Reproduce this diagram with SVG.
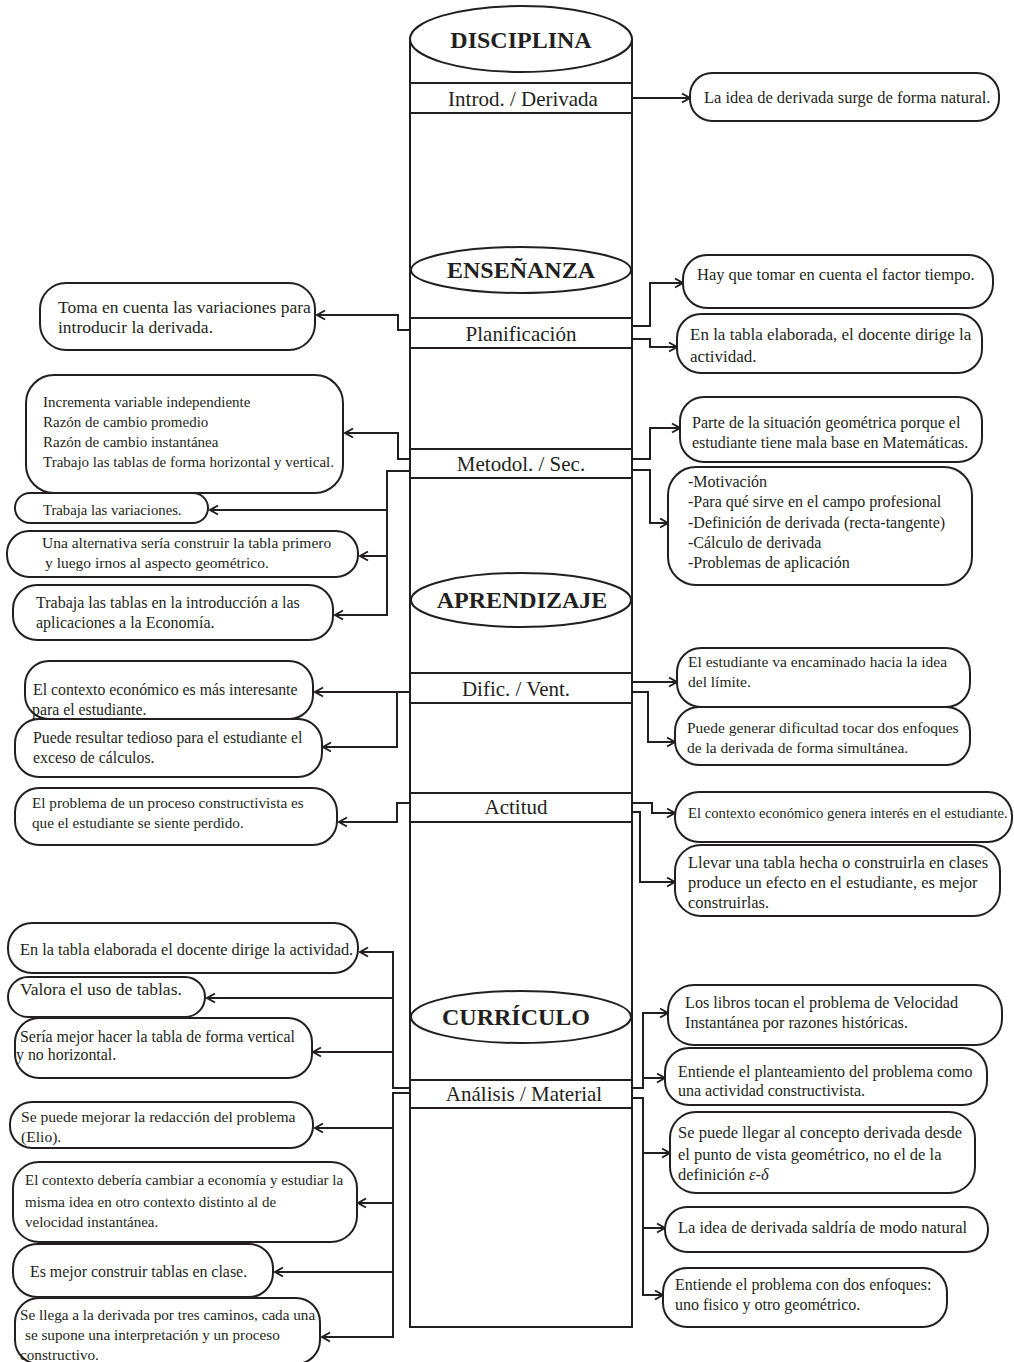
<svg xmlns="http://www.w3.org/2000/svg" width="1014" height="1362" viewBox="0 0 1014 1362">
  <style>
    .line { fill: none; stroke: #231f20; stroke-width: 2; }
    .box { fill: #ffffff; stroke: #231f20; stroke-width: 2; }
    .band { fill: #ffffff; stroke: #231f20; stroke-width: 2; }
    .head { fill: #ffffff; stroke: #231f20; stroke-width: 2; }
    text { font-family: "Liberation Serif", "Times New Roman", serif; fill: #231f20; }
    .h { font-size: 24px; font-weight: bold; text-anchor: middle; }
    .b { font-size: 21px; text-anchor: middle; }
    .conn path { fill: none; stroke: #231f20; stroke-width: 2; }
  </style>
  <defs>
    <marker id="arrow" viewBox="-10 -6 12 12" refX="0" refY="0" markerWidth="12" markerHeight="12" markerUnits="userSpaceOnUse" orient="auto">
      <path d="M-8,-4.5 L0,0 L-8,4.5" fill="none" stroke="#231f20" stroke-width="2"/>
    </marker>
  </defs>

  <!-- central column -->
  <g id="column">
    <path class="line" d="M410,39 V1327 H632 V39"/>
  </g>

  <!-- section headings -->
  <g id="disciplina">
    <ellipse class="head" cx="521" cy="39" rx="111" ry="33"/>
    <text class="h" x="521" y="48">DISCIPLINA</text>
  </g>
  <g id="ensenanza">
    <ellipse class="head" cx="521" cy="270" rx="110" ry="23"/>
    <text class="h" x="521" y="278">ENSEÑANZA</text>
  </g>
  <g id="aprendizaje">
    <ellipse class="head" cx="521" cy="600" rx="110" ry="27"/>
    <text class="h" x="522" y="608">APRENDIZAJE</text>
  </g>
  <g id="curriculo">
    <ellipse class="head" cx="521" cy="1017" rx="110" ry="26"/>
    <text class="h" x="516" y="1025">CURRÍCULO</text>
  </g>

  <!-- category bands -->
  <g id="band-introd">
    <rect class="band" x="410" y="83" width="222" height="30"/>
    <text class="b" x="523" y="106">Introd. / Derivada</text>
  </g>
  <g id="band-planificacion">
    <rect class="band" x="410" y="318" width="222" height="30"/>
    <text class="b" x="521" y="341">Planificación</text>
  </g>
  <g id="band-metodol">
    <rect class="band" x="410" y="449" width="222" height="29"/>
    <text class="b" x="521" y="471">Metodol. / Sec.</text>
  </g>
  <g id="band-dific">
    <rect class="band" x="410" y="673" width="222" height="30"/>
    <text class="b" x="516" y="696">Dific. / Vent.</text>
  </g>
  <g id="band-actitud">
    <rect class="band" x="410" y="793" width="222" height="29"/>
    <text class="b" x="516" y="814">Actitud</text>
  </g>
  <g id="band-analisis">
    <rect class="band" x="410" y="1080" width="222" height="28"/>
    <text class="b" x="524" y="1101">Análisis / Material</text>
  </g>

  <!-- connectors -->
  <g id="connectors" class="conn">
    <path d="M632,98 H690" marker-end="url(#arrow)"/>
    <path d="M632,326 H650 V283 H683" marker-end="url(#arrow)"/>
    <path d="M632,339 H650 V347 H677" marker-end="url(#arrow)"/>
    <path d="M632,459 H650 V428 H680" marker-end="url(#arrow)"/>
    <path d="M632,470 H650 V523 H668" marker-end="url(#arrow)"/>
    <path d="M632,682 H677" marker-end="url(#arrow)"/>
    <path d="M632,692 H648 V742 H675" marker-end="url(#arrow)"/>
    <path d="M632,803 H652 V813 H675" marker-end="url(#arrow)"/>
    <path d="M632,812 H640 V882 H675" marker-end="url(#arrow)"/>
    <path d="M632,1088 H643 V1013 H668" marker-end="url(#arrow)"/>
    <path d="M643,1078 H665" marker-end="url(#arrow)"/>
    <path d="M632,1098 H643 V1295 H663" marker-end="url(#arrow)"/>
    <path d="M643,1153 H670" marker-end="url(#arrow)"/>
    <path d="M643,1228 H665" marker-end="url(#arrow)"/>

    <path d="M410,330 H398 V315 H317" marker-end="url(#arrow)"/>
    <path d="M410,459 H398 V433 H345" marker-end="url(#arrow)"/>
    <path d="M410,471 H387 V615 H335" marker-end="url(#arrow)"/>
    <path d="M387,510 H210" marker-end="url(#arrow)"/>
    <path d="M387,556 H360" marker-end="url(#arrow)"/>
    <path d="M410,692 H315" marker-end="url(#arrow)"/>
    <path d="M397,692 V747 H323" marker-end="url(#arrow)"/>
    <path d="M410,803 H397 V822 H339" marker-end="url(#arrow)"/>
    <path d="M410,1088 H393 V952 H360" marker-end="url(#arrow)"/>
    <path d="M393,998 H207" marker-end="url(#arrow)"/>
    <path d="M393,1052 H313" marker-end="url(#arrow)"/>
    <path d="M410,1093 H393 V1337 H322" marker-end="url(#arrow)"/>
    <path d="M393,1128 H315" marker-end="url(#arrow)"/>
    <path d="M393,1203 H358" marker-end="url(#arrow)"/>
    <path d="M393,1272 H275" marker-end="url(#arrow)"/>
  </g>

  <!-- right-hand notes -->
  <g id="r-idea-natural">
    <rect class="box" x="690" y="73" width="309" height="48" rx="22"/>
    <text x="704" y="103" font-size="16.5">La idea de derivada surge de forma natural.</text>
  </g>
  <g id="r-factor-tiempo">
    <rect class="box" x="683" y="255" width="310" height="53" rx="24"/>
    <text x="697" y="280" font-size="16.5">Hay que tomar en cuenta el factor tiempo.</text>
  </g>
  <g id="r-docente-dirige">
    <rect class="box" x="677" y="314" width="305" height="59" rx="24"/>
    <text x="690" y="340" font-size="17">En la tabla elaborada, el docente dirige la</text>
    <text x="690" y="362" font-size="17">actividad.</text>
  </g>
  <g id="r-situacion-geometrica">
    <rect class="box" x="680" y="397" width="302" height="65" rx="24"/>
    <text x="692" y="428" font-size="16">Parte de la situación geométrica porque el</text>
    <text x="692" y="448" font-size="16">estudiante tiene mala base en Matemáticas.</text>
  </g>
  <g id="r-secuencia">
    <rect class="box" x="668" y="467" width="304" height="118" rx="28"/>
    <text x="688" y="487" font-size="16">-Motivación</text>
    <text x="688" y="507" font-size="16">-Para qué sirve en el campo profesional</text>
    <text x="688" y="528" font-size="16">-Definición de derivada (recta-tangente)</text>
    <text x="688" y="548" font-size="16">-Cálculo de derivada</text>
    <text x="688" y="568" font-size="16">-Problemas de aplicación</text>
  </g>
  <g id="r-idea-limite">
    <rect class="box" x="677" y="648" width="293" height="59" rx="24"/>
    <text x="688" y="667" font-size="15.5">El estudiante va encaminado hacia la idea</text>
    <text x="688" y="687" font-size="15.5">del límite.</text>
  </g>
  <g id="r-dos-enfoques">
    <rect class="box" x="675" y="707" width="295" height="58" rx="24"/>
    <text x="687" y="733" font-size="15.5">Puede generar dificultad tocar dos enfoques</text>
    <text x="687" y="753" font-size="15.5">de la derivada de forma simultánea.</text>
  </g>
  <g id="r-interes">
    <rect class="box" x="675" y="792" width="337" height="50" rx="24"/>
    <text x="688" y="818" font-size="14.7">El contexto económico genera interés en el estudiante.</text>
  </g>
  <g id="r-tabla-hecha">
    <rect class="box" x="675" y="845" width="325" height="71" rx="26"/>
    <text x="688" y="868" font-size="16.5">Llevar una tabla hecha o construirla en clases</text>
    <text x="688" y="888" font-size="16.5">produce un efecto en el estudiante, es mejor</text>
    <text x="688" y="908" font-size="16.5">construirlas.</text>
  </g>
  <g id="r-libros">
    <rect class="box" x="668" y="985" width="334" height="60" rx="26"/>
    <text x="685" y="1008" font-size="16.2">Los libros tocan el problema de Velocidad</text>
    <text x="685" y="1028" font-size="16.2">Instantánea por razones históricas.</text>
  </g>
  <g id="r-constructivista">
    <rect class="box" x="665" y="1048" width="322" height="57" rx="24"/>
    <text x="678" y="1077" font-size="16">Entiende el planteamiento del problema como</text>
    <text x="678" y="1096" font-size="16">una actividad constructivista.</text>
  </g>
  <g id="r-geometrico">
    <rect class="box" x="670" y="1112" width="305" height="81" rx="26"/>
    <text x="678" y="1138" font-size="16.5">Se puede llegar al concepto derivada desde</text>
    <text x="678" y="1160" font-size="16.5">el punto de vista geométrico, no el de la</text>
    <text x="678" y="1180" font-size="16.5">definición <tspan font-style="italic">ε-δ</tspan></text>
  </g>
  <g id="r-saldria">
    <rect class="box" x="665" y="1207" width="323" height="45" rx="22"/>
    <text x="678" y="1233" font-size="16.5">La idea de derivada saldría de modo natural</text>
  </g>
  <g id="r-fisico">
    <rect class="box" x="663" y="1268" width="284" height="59" rx="24"/>
    <text x="675" y="1290" font-size="16">Entiende el problema con dos enfoques:</text>
    <text x="675" y="1310" font-size="16">uno fisico y  otro geométrico.</text>
  </g>

  <!-- left-hand notes -->
  <g id="l-variaciones">
    <rect class="box" x="40" y="283" width="275" height="67" rx="26"/>
    <text x="58" y="313" font-size="17.5">Toma en cuenta las variaciones para</text>
    <text x="58" y="333" font-size="17.5">introducir la derivada.</text>
  </g>
  <g id="l-razon-cambio">
    <rect class="box" x="26" y="375" width="317" height="118" rx="28"/>
    <text x="43" y="407" font-size="15">Incrementa variable independiente</text>
    <text x="43" y="427" font-size="15">Razón de cambio promedio</text>
    <text x="43" y="447" font-size="15">Razón de cambio instantánea</text>
    <text x="43" y="467" font-size="15">Trabajo las tablas de forma horizontal y vertical.</text>
  </g>
  <g id="l-trabaja-variaciones">
    <rect class="box" x="15" y="493" width="193" height="30" rx="15"/>
    <text x="43" y="515" font-size="14.7">Trabaja las variaciones.</text>
  </g>
  <g id="l-alternativa">
    <rect class="box" x="7" y="531" width="351" height="46" rx="22"/>
    <text x="42" y="548" font-size="15.5">Una alternativa sería construir la tabla primero</text>
    <text x="45" y="568" font-size="15.5">y luego irnos al aspecto geométrico.</text>
  </g>
  <g id="l-economia">
    <rect class="box" x="13" y="585" width="320" height="55" rx="24"/>
    <text x="36" y="608" font-size="16">Trabaja las tablas en la introducción a las</text>
    <text x="36" y="628" font-size="16">aplicaciones a la Economía.</text>
  </g>
  <g id="l-contexto-economico">
    <rect class="box" x="25" y="661" width="288" height="58" rx="24"/>
    <text x="33" y="695" font-size="15.8">El contexto económico es más interesante</text>
    <text x="32" y="715" font-size="15.8">para el estudiante.</text>
  </g>
  <g id="l-tedioso">
    <rect class="box" x="15" y="719" width="307" height="58" rx="24"/>
    <text x="33" y="743" font-size="15.8">Puede resultar tedioso para el estudiante el</text>
    <text x="33" y="763" font-size="15.8">exceso de cálculos.</text>
  </g>
  <g id="l-perdido">
    <rect class="box" x="15" y="788" width="322" height="57" rx="24"/>
    <text x="32" y="808" font-size="15.2">El problema de un proceso constructivista es</text>
    <text x="32" y="828" font-size="15.2">que el estudiante se siente perdido.</text>
  </g>
  <g id="l-docente">
    <rect class="box" x="8" y="923" width="350" height="50" rx="24"/>
    <text x="20" y="955" font-size="16.3">En la tabla elaborada el docente dirige la actividad.</text>
  </g>
  <g id="l-valora">
    <rect class="box" x="8" y="977" width="197" height="40" rx="20"/>
    <text x="20" y="995" font-size="17.5">Valora el uso de tablas.</text>
  </g>
  <g id="l-vertical">
    <rect class="box" x="15" y="1018" width="297" height="60" rx="24"/>
    <text x="20" y="1042" font-size="15.9">Sería mejor hacer la tabla de forma vertical</text>
    <text x="16" y="1060" font-size="15.9">y no horizontal.</text>
  </g>
  <g id="l-redaccion">
    <rect class="box" x="10" y="1102" width="303" height="46" rx="22"/>
    <text x="21" y="1122" font-size="15.6">Se puede mejorar la redacción del problema</text>
    <text x="21" y="1142" font-size="15.6">(Elio).</text>
  </g>
  <g id="l-contexto">
    <rect class="box" x="13" y="1162" width="344" height="80" rx="26"/>
    <text x="25" y="1185" font-size="15">El contexto debería cambiar a economía y estudiar la</text>
    <text x="25" y="1207" font-size="15">misma idea en otro contexto distinto al de</text>
    <text x="25" y="1227" font-size="15">velocidad instantánea.</text>
  </g>
  <g id="l-clase">
    <rect class="box" x="13" y="1244" width="260" height="53" rx="24"/>
    <text x="30" y="1277" font-size="15.9">Es mejor construir tablas en clase.</text>
  </g>
  <g id="l-tres-caminos">
    <rect class="box" x="15" y="1298" width="305" height="66" rx="24"/>
    <text x="20" y="1320" font-size="15.2">Se llega a la derivada por tres caminos, cada una</text>
    <text x="25" y="1340" font-size="15.2">se supone una interpretación y un proceso</text>
    <text x="20" y="1360" font-size="15.2">constructivo.</text>
  </g>
</svg>
